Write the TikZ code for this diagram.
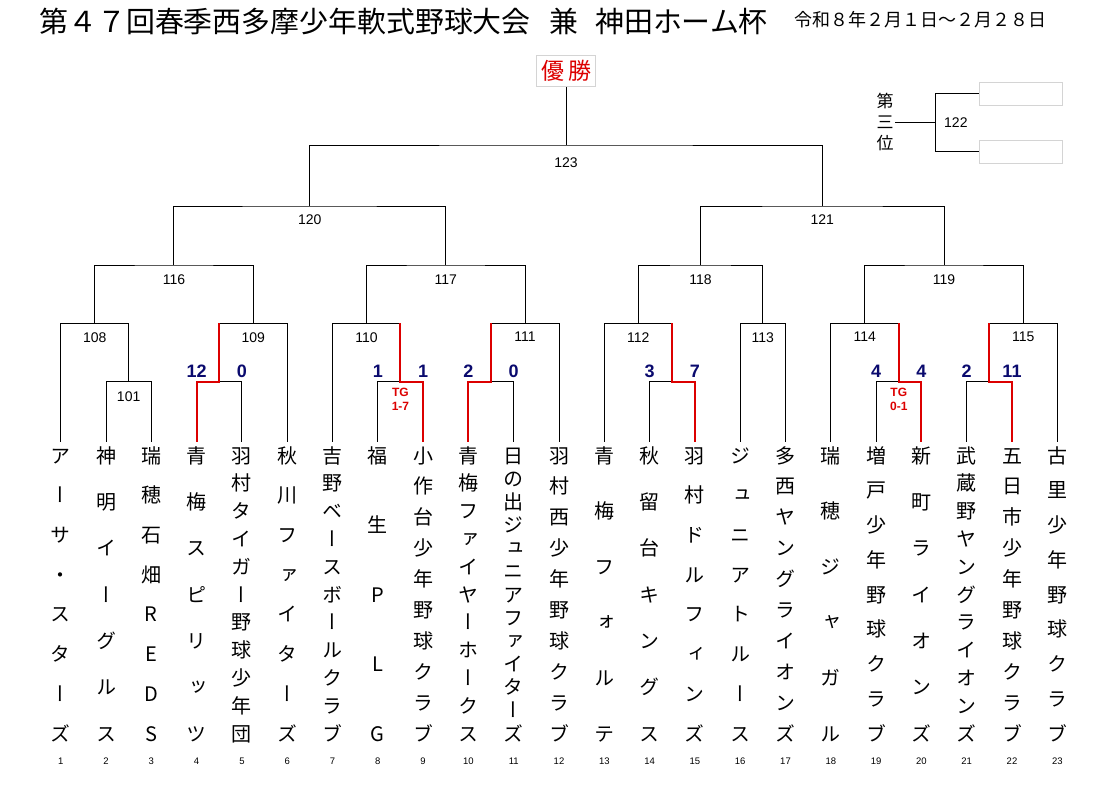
\documentclass[tikz,border=0pt]{standalone}
\usepackage{fontspec}
\usepackage{tikz}
\usetikzlibrary{positioning}
\setmainfont{Liberation Sans}
\newfontfamily\jpfont{Noto Sans CJK JP}
\newfontfamily\tatefont[RawFeature=+vert]{Noto Sans CJK JP}
\definecolor{wonred}{RGB}{220,0,0}
\definecolor{scoreblue}{RGB}{10,10,110}
\definecolor{boxgray}{RGB}{212,212,212}
\makeatletter
\newcommand\tate[2]{\edef\tate@list{#2}%
  \vbox to \dimexpr#1+0.9em\relax{\offinterlineskip\hsize=1.1em
    \let\tate@sep\relax
    \expandafter\tate@go\expandafter{\tate@list}}}
\newcommand\tate@go[1]{\@tfor\tate@c:=#1\do{\tate@sep
    \hbox to\hsize{\hss\vrule width\z@ height.9em depth.2em\tate@c\hss}%
    \let\tate@sep\vfill}}
\makeatother
\begin{document}
\begin{tikzpicture}[x=1pt,y=-1pt,line width=1pt,
  every node/.style={inner sep=0pt},
  num/.style={font=\fontsize{14}{14}\selectfont},
  score/.style={font=\bfseries\fontsize{18}{18}\selectfont,text=scoreblue},
  tg/.style={font=\bfseries\fontsize{12}{14}\selectfont,text=wonred,align=center},
  team/.style={font=\tatefont\fontsize{20}{20}\selectfont,anchor=north},
  idx/.style={font=\fontsize{9.5}{9.5}\selectfont},
  won/.style={draw=wonred,line width=2pt},
  blank/.style={draw=boxgray,minimum width=83pt,minimum height=23pt},
  champ/.style={draw=boxgray,text=wonred,font=\jpfont\fontsize{23}{23}\selectfont,minimum width=59pt,minimum height=31pt}]
\useasboundingbox (0,0) rectangle (1117,787);
\node[anchor=base west,font=\jpfont\fontsize{28.9}{28.9}\selectfont] (title) at (39,32.3) {第４７回春季西多摩少年軟式野球大会\hspace{18.3pt}兼\hspace{17.3pt}神田ホーム杯};
\node[anchor=base west,font=\jpfont\fontsize{18}{18}\selectfont] (date) at (794,26.8) {令和８年２月１日～２月２８日};
% teams
\foreach \i/\name in {1/アーサ・スターズ,2/神明イーグルス,3/瑞穂石畑REDS,4/青梅スピリッツ,
  5/羽村タイガー野球少年団,6/秋川ファイターズ,7/吉野ベースボールクラブ,8/福生PLG,
  9/小作台少年野球クラブ,10/青梅ファイヤーホークス,11/日の出ジュニアファイターズ,
  12/羽村西少年野球クラブ,13/青梅フォルテ,14/秋留台キングス,15/羽村ドルフィンズ,
  16/ジュニアトルース,17/多西ヤングライオンズ,18/瑞穂ジャガル,19/増戸少年野球クラブ,
  20/新町ライオンズ,21/武蔵野ヤングライオンズ,22/五日市少年野球クラブ,23/古里少年野球クラブ}{
  \coordinate (t\i) at ({60.7+45.3*(\i-1)},441.7);
  \node[team] (n\i) at ({60.7+45.3*(\i-1)},444.6) {\tate{278pt}{\name}};
  \node[idx] (i\i) at ({60.7+45.3*(\i-1)},761) {\i};
}
% first round
\coordinate (r101) at (128.65,381.7);
\coordinate (r45) at (219.25,381.7);
\coordinate (r89) at (400.45,381.7);
\coordinate (r1011) at (491.05,381.7);
\coordinate (r1415) at (672.25,381.7);
\coordinate (r1920) at (898.75,381.7);
\coordinate (r2122) at (989.35,381.7);
% later rounds
\coordinate (m108) at (94.68,323.3);
\coordinate (m109) at (253.23,323.3);
\coordinate (m110) at (366.48,323.3);
\coordinate (m111) at (525.03,323.3);
\coordinate (m112) at (638.28,323.3);
\coordinate (m113) at (762.85,323.3);
\coordinate (m114) at (864.78,323.3);
\coordinate (m115) at (1023.33,323.3);
\coordinate (m116) at (173.95,265);
\coordinate (m117) at (445.75,265);
\coordinate (m118) at (700.56,265);
\coordinate (m119) at (944.05,265);
\coordinate (m120) at (309.85,206);
\coordinate (m121) at (822.3,206);
\coordinate (m123) at (566.08,145);
\coordinate (m122) at (935.7,122.7);
\draw (t2) |- (r101) -| (t3);
\draw (t1) |- (m108) -| (r101);
\draw (t4) |- (r45) -| (t5);
\draw (r45) |- (m109) -| (t6);
\draw (m108) |- (m116) -| (m109);
\draw (t8) |- (r89) -| (t9);
\draw (t7) |- (m110) -| (r89);
\draw (t10) |- (r1011) -| (t11);
\draw (r1011) |- (m111) -| (t12);
\draw (m110) |- (m117) -| (m111);
\draw (m116) |- (m120) -| (m117);
\draw (t14) |- (r1415) -| (t15);
\draw (t13) |- (m112) -| (r1415);
\draw (t16) |- (m113) -| (t17);
\draw (m112) |- (m118) -| (m113);
\draw (t19) |- (r1920) -| (t20);
\draw (t18) |- (m114) -| (r1920);
\draw (t21) |- (r2122) -| (t22);
\draw (r2122) |- (m115) -| (t23);
\draw (m114) |- (m119) -| (m115);
\draw (m118) |- (m121) -| (m119);
\draw (m120) |- (m123) -| (m121);
\node[champ,above=58pt of m123] (champ) {優\hspace{4pt}勝};
\draw (m123) -- (champ);
% winners
\draw[won] (t4) |- (r45) -- (r45 |- m109);
\draw[won] (t9) |- (r89) -- (r89 |- m110);
\draw[won] (t10) |- (r1011) -- (r1011 |- m111);
\draw[won] (t15) |- (r1415) -- (r1415 |- m112);
\draw[won] (t20) |- (r1920) -- (r1920 |- m114);
\draw[won] (t22) |- (r2122) -- (r2122 |- m115);
\foreach \i/\s/\m in {4/12/r45,5/0/r45,8/1/r89,9/1/r89,10/2/r1011,11/0/r1011,
  14/3/r1415,15/7/r1415,19/4/r1920,20/4/r1920,21/2/r2122,22/11/r2122}
  \node[score,above=3.5pt] (s\i) at (t\i |- \m) {\s};
\node[tg,below=5.7pt of r89] (tg89) {TG\\1-7};
\node[tg,below=5.7pt of r1920] (tg1920) {TG\\0-1};
% match numbers
\node[num,below=10pt of r101] (l101) {101};
\foreach \m in {108,109,110,111,112,113,114,115}
  \node[num,below=8.5pt of m\m] (l\m) {\m};
\foreach \m in {116,117,118,119}
  \node[num,below=9.5pt of m\m] (l\m) {\m};
\foreach \m in {120,121}
  \node[num,below=8pt of m\m] (l\m) {\m};
\node[num,below=12pt of m123] (l123) {123};
% third place
\node[anchor=east,font=\tatefont\fontsize{17}{17}\selectfont] (third) at (895,122.7) {\tate{42pt}{第三位}};
\node[blank] (box1) at (1020.8,93.7) {};
\node[blank] (box2) at (1020.8,151.7) {};
\draw (third.east) -- (m122);
\draw (box1.west) -| (m122) |- (box2.west);
\node[num,right=8pt of m122] (l122) {122};
\end{tikzpicture}
\end{document}
